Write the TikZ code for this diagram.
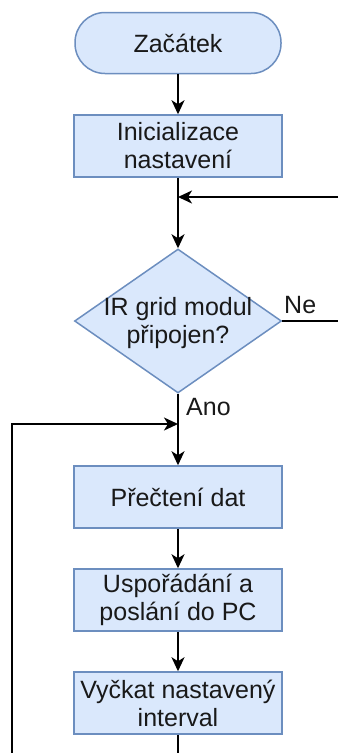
\documentclass[tikz,border=0pt]{standalone}
\usepackage{fontspec}
\setmainfont{Liberation Sans}
\usetikzlibrary{shapes.geometric,arrows.meta}
\definecolor{boxfill}{HTML}{DAE8FC}
\definecolor{boxline}{HTML}{6C8EBF}
\begin{document}
\begin{tikzpicture}[x=1pt,y=-1pt,
  every node/.style={font=\fontsize{25}{28}\selectfont, text=black!90},
  proc/.style={draw=boxline, fill=boxfill, line width=1.5pt, minimum width=208pt, minimum height=62pt, align=center, inner sep=0pt},
  term/.style={proc, rounded corners=30pt, minimum width=206pt, minimum height=61pt},
  dec/.style={draw=boxline, fill=boxfill, line width=1.5pt, diamond, minimum width=207pt, minimum height=144pt, inner sep=0pt},
  conn/.style={line width=2pt, black},
  arr/.style={conn, -{Stealth[length=14pt,width=13pt,inset=4pt]}},
  lbl/.style={inner sep=0pt, anchor=west}
]
\useasboundingbox (0,0) rectangle (338,753);
\node[term] (start) at (178,43) {Začátek};
\node[proc] (init) at (178,146) {Inicializace\\nastavení};
\coordinate (merge) at (178,197);
\node[dec] (dec) at (178,321) {};
\node[align=center, inner sep=0pt] (dectext) at (178,323) {IR grid modul\\připojen?};
\coordinate (loopin) at (178,424);
\node[proc] (read) at (178,497) {Přečtení dat};
\node[proc] (send) at (178,600) {Uspořádání a\\poslání do PC};
\node[proc] (wait) at (178,703) {Vyčkat nastavený\\interval};
\coordinate (bottom) at (178,753);
\coordinate (bottomleft) at (12,753);
\coordinate (leftup) at (12,424);
\coordinate (rightout) at (338,321);
\coordinate (rightin) at (338,197);
\node[lbl] (ne) at (284,305) {Ne};
\node[lbl] (ano) at (186,407) {Ano};

\draw[arr] (start) -- (init);
\draw[conn] (init) -- (merge);
\draw[arr] (merge) -- (dec.north);
\draw[arr] (rightin) -- (merge);
\draw[conn] (dec.east) -- (rightout);
\draw[conn] (dec.south) -- (loopin);
\draw[arr] (loopin) -- (read);
\draw[arr] (read) -- (send);
\draw[arr] (send) -- (wait);
\draw[conn] (wait) -- (bottom);
\draw[arr] (bottomleft) -- (leftup) -- (loopin);
\end{tikzpicture}
\end{document}
